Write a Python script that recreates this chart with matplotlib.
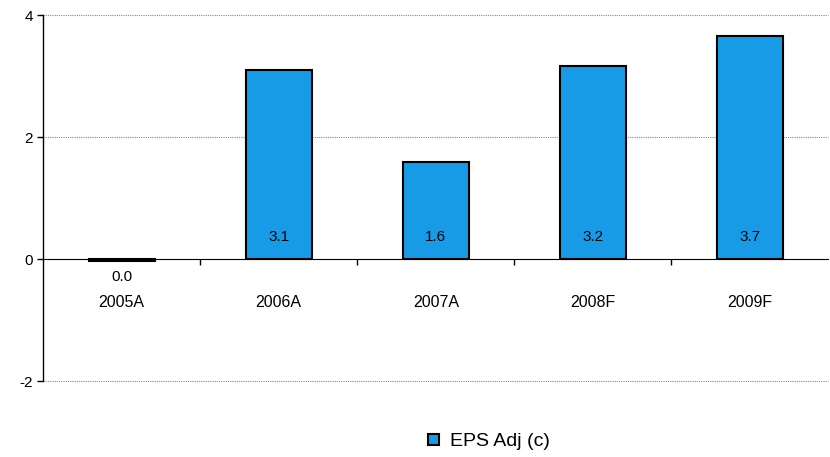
import matplotlib.pyplot as plt
from matplotlib.patches import Patch

plt.rcParams["font.family"] = ["Liberation Sans", "DejaVu Sans"]
plt.rcParams["axes.unicode_minus"] = False

# data
years = ["2005A", "2006A", "2007A", "2008F", "2009F"]
eps_adj = [-0.03, 3.10, 1.59, 3.16, 3.66]
value_labels = ["0.0", "3.1", "1.6", "3.2", "3.7"]
y_ticks = [-2, 0, 2, 4]

BAR_COLOR = "#179BE6"

fig = plt.figure(figsize=(8.3, 4.57), dpi=100)
ax = fig.add_axes([0.052, 0.166, 0.946, 0.801])

x = list(range(len(years)))
ax.bar(x, eps_adj, width=0.42, color=BAR_COLOR, edgecolor="black", linewidth=1.5, zorder=3)

# value labels: inside the bar near the base, or below for non-positive values
for xi, v, lab in zip(x, eps_adj, value_labels):
    if v > 0.2:
        ax.text(xi, 0.36, lab, ha="center", va="center", fontsize=11, zorder=4)
    else:
        ax.text(xi, v - 0.27, lab, ha="center", va="center", fontsize=11, zorder=4)

ax.set_xlim(-0.5, len(years) - 0.5)
ax.set_ylim(-2, 4)
ax.set_yticks(y_ticks)
grid_style = dict(linestyle=(0, (1, 1)), color="#888888", linewidth=0.8, zorder=0)
for yv in y_ticks:
    if yv != 0:
        ax.axhline(yv, clip_on=False, **grid_style)

for side in ["top", "right"]:
    ax.spines[side].set_visible(False)
ax.spines["bottom"].set_position(("data", 0))
ax.spines["bottom"].set_zorder(5)
ax.spines["left"].set_linewidth(1.0)

ax.set_xticks(x)
ax.set_xticklabels(years)
ax.set_xticks([i + 0.5 for i in x[:-1]], minor=True)
ax.tick_params(axis="x", which="major", length=0, pad=26, labelsize=11.5)
ax.tick_params(axis="x", which="minor", length=4, direction="out", width=1)
ax.tick_params(axis="y", length=4, width=1, direction="out", labelsize=11)

handle = Patch(facecolor=BAR_COLOR, edgecolor="black", linewidth=1.5)
fig.legend([handle], ["EPS Adj (c)"], loc="center", bbox_to_anchor=(0.589, 0.033),
           frameon=False, fontsize=14, handlelength=0.55, handleheight=0.55,
           handletextpad=0.55)

fig.savefig("out.png", dpi=100)
